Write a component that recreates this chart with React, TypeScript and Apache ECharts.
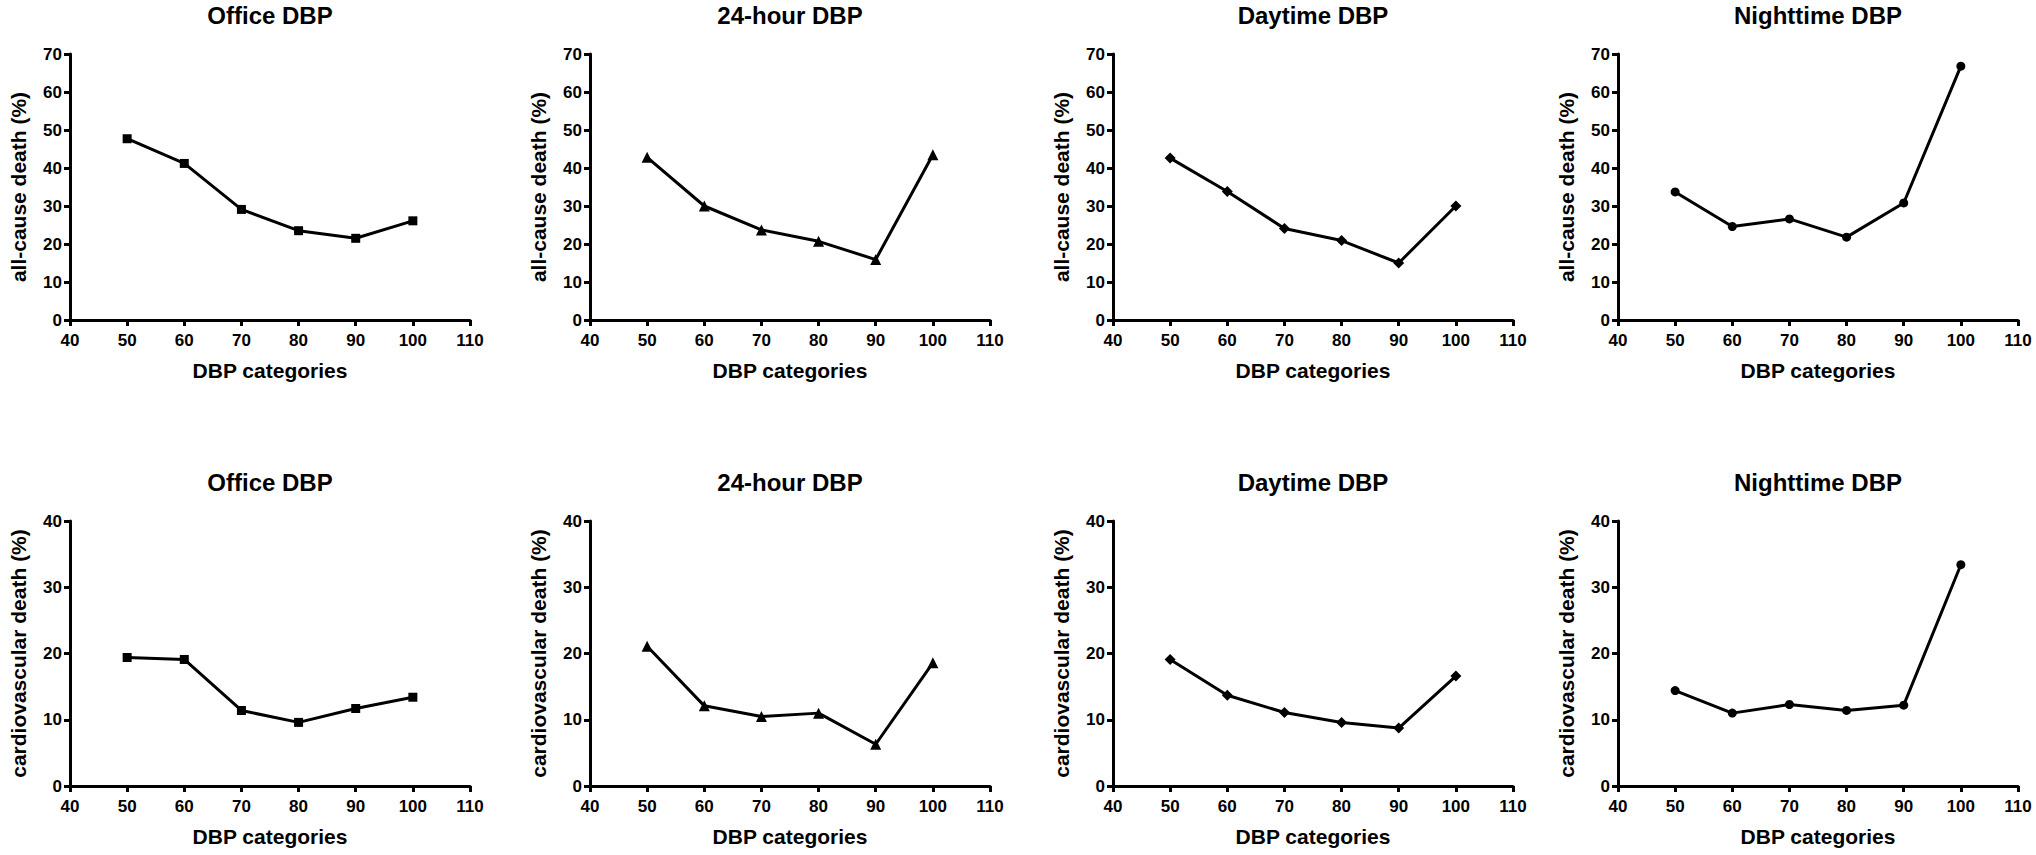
import React, { useEffect, useRef } from "react";
import * as echarts from "echarts";

const xCategories = [50, 60, 70, 80, 90, 100];
const panelTitles = ["Office DBP", "24-hour DBP", "Daytime DBP", "Nighttime DBP"];
const markers = ["rect", "triangle", "diamond", "circle"];
const markerSizes = [9, 11, 11, 9];

// all-cause death (%)
const allOffice = [47.7, 41.2, 29.1, 23.5, 21.5, 26.1];
const all24h = [42.8, 30.0, 23.7, 20.7, 15.9, 43.5];
const allDay = [42.6, 33.8, 24.1, 20.9, 15.0, 30.0];
const allNight = [33.7, 24.6, 26.6, 21.8, 30.8, 66.8];

// cardiovascular death (%)
const cvOffice = [19.4, 19.1, 11.4, 9.6, 11.7, 13.4];
const cv24h = [21.1, 12.1, 10.5, 11.0, 6.3, 18.6];
const cvDay = [19.1, 13.7, 11.1, 9.6, 8.75, 16.6];
const cvNight = [14.4, 11.0, 12.3, 11.4, 12.2, 33.4];

const topRows = [allOffice, all24h, allDay, allNight];
const bottomRows = [cvOffice, cv24h, cvDay, cvNight];

const FONT = "Liberation Sans, Arial, sans-serif";

export default function App() {
  const ref = useRef<HTMLDivElement>(null);
  useEffect(() => {
    if (!ref.current) return;
    const chart = echarts.init(ref.current, null, { renderer: "svg" });
    const lefts = [70, 590, 1113, 1618];
    const gridW = 400;
    const rows = [
      { top: 54, height: 266, max: 70, name: "all-cause death (%)", data: topRows, titleY: 15 },
      { top: 521, height: 265, max: 40, name: "cardiovascular death (%)", data: bottomRows, titleY: 482 },
    ];
    const grid: any[] = [];
    const xAxis: any[] = [];
    const yAxis: any[] = [];
    const series: any[] = [];
    const graphic: any[] = [];
    let idx = 0;
    rows.forEach((row) => {
      lefts.forEach((left, c) => {
        grid.push({ left, top: row.top, width: gridW, height: row.height, containLabel: false });
        const axisCommon = {
          axisLine: { show: true, lineStyle: { color: "#000", width: 3 } },
          axisTick: { show: true, length: 6, lineStyle: { color: "#000", width: 3 } },
          axisLabel: { color: "#000", fontSize: 17, fontWeight: "bold", fontFamily: FONT },
          splitLine: { show: false },
          nameTextStyle: { color: "#000", fontSize: 21, fontWeight: "bold", fontFamily: FONT },
        };
        xAxis.push({
          type: "value",
          gridIndex: idx,
          min: 40,
          max: 110,
          interval: 10,
          name: "DBP categories",
          nameLocation: "middle",
          nameGap: 40,
          ...axisCommon,
          axisLabel: { ...axisCommon.axisLabel, margin: 12 },
        });
        yAxis.push({
          type: "value",
          gridIndex: idx,
          min: 0,
          max: row.max,
          interval: 10,
          name: row.name,
          nameLocation: "middle",
          nameGap: 41,
          ...axisCommon,
          axisLabel: { ...axisCommon.axisLabel, margin: 8 },
        });
        series.push({
          type: "line",
          xAxisIndex: idx,
          yAxisIndex: idx,
          data: xCategories.map((x, i) => [x, row.data[c][i]]),
          symbol: markers[c],
          symbolSize: markerSizes[c],
          showSymbol: true,
          lineStyle: { color: "#000", width: 3 },
          itemStyle: { color: "#000" },
          z: 5,
        });
        graphic.push({
          type: "text",
          x: left + gridW / 2,
          y: row.titleY,
          style: {
            text: panelTitles[c],
            fill: "#000",
            fontSize: 24,
            fontWeight: "bold",
            fontFamily: FONT,
            textAlign: "center",
            textVerticalAlign: "middle",
          },
        });
        idx++;
      });
    });
    chart.setOption({
      animation: false,
      backgroundColor: "#fff",
      grid,
      xAxis,
      yAxis,
      series,
      graphic,
    });
    return () => chart.dispose();
  }, []);
  return (
    <div
      ref={ref}
      style={{ position: "absolute", left: 0, top: 0, width: 2036, height: 855 }}
    />
  );
}
